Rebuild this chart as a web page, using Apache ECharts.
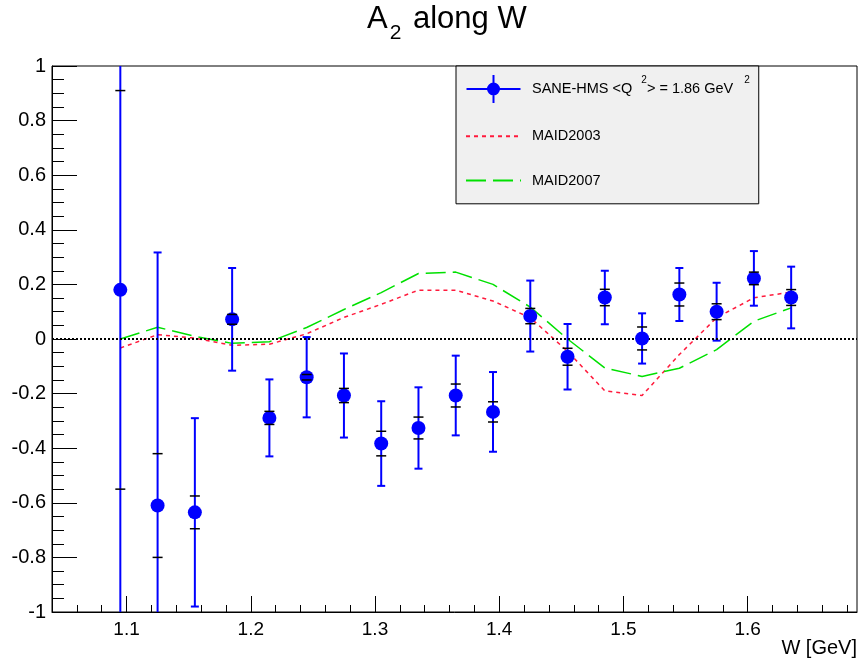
<!DOCTYPE html>
<html>
<head>
<meta charset="utf-8">
<script src="https://cdn.jsdelivr.net/npm/echarts@6/dist/echarts.min.js"></script>
<style>
  html, body { margin: 0; padding: 0; background: #fff; }
</style>
</head>
<body>
<div id="main" style="width:864px;height:667px;"></div>
<script>
// W bins [GeV]
var W = [1.095, 1.125, 1.155, 1.185, 1.215, 1.245, 1.275, 1.305, 1.335, 1.365,
         1.395, 1.425, 1.455, 1.485, 1.515, 1.545, 1.575, 1.605, 1.635];
// measured A2 with total error (blue) and inner error (black marks)
var A2 = [0.18, -0.61, -0.635, 0.072, -0.289, -0.14, -0.207, -0.383, -0.326, -0.207,
          -0.267, 0.084, -0.065, 0.152, 0.002, 0.163, 0.1, 0.222, 0.152];
var errTotal = [1.25, 0.927, 0.345, 0.188, 0.141, 0.147, 0.154, 0.155, 0.149, 0.146,
                0.146, 0.13, 0.12, 0.098, 0.092, 0.097, 0.106, 0.1, 0.113];
var errInner = [0.73, 0.19, 0.06, 0.018, 0.024, 0.01, 0.026, 0.045, 0.04, 0.042,
                0.037, 0.028, 0.031, 0.03, 0.042, 0.042, 0.029, 0.023, 0.029];
// model curves
var MAID2003 = [-0.033, 0.016, 0.003, -0.023, -0.019, 0.019, 0.079, 0.127, 0.179, 0.179,
                0.139, 0.078, -0.045, -0.19, -0.207, -0.057, 0.078, 0.151, 0.172];
var MAID2007 = [0.0, 0.043, 0.01, -0.016, -0.01, 0.042, 0.108, 0.17, 0.24, 0.245,
                0.2, 0.117, 0.0, -0.106, -0.137, -0.107, -0.039, 0.065, 0.114];
// axis ticks
var xMajor = [1.1, 1.2, 1.3, 1.4, 1.5, 1.6];
var xMinor = [1.06, 1.08, 1.12, 1.14, 1.16, 1.18, 1.22, 1.24, 1.26, 1.28, 1.32, 1.34, 1.36, 1.38,
              1.42, 1.44, 1.46, 1.48, 1.52, 1.54, 1.56, 1.58, 1.62, 1.64, 1.66, 1.68];
var X_MIN = 1.04, X_MAX = 1.688;
var Y_MIN = -1, Y_MAX = 1;

var SANE = 'SANE-HMS <Q^2> = 1.86 GeV^2';
var FONT = "'Liberation Sans', Arial, Helvetica, sans-serif";

var points = W.map(function (w, i) { return [w, A2[i], errTotal[i], errInner[i]]; });

function renderTotal(params, api) {
    var w = api.value(0), a = api.value(1), e = api.value(2);
    var hi = Math.min(a + e, Y_MAX), lo = Math.max(a - e, Y_MIN);
    var pHi = api.coord([w, hi]), pLo = api.coord([w, lo]);
    var st = { stroke: '#0000ff', lineWidth: 2 };
    var kids = [{ type: 'line', shape: { x1: pHi[0], y1: pHi[1], x2: pLo[0], y2: pLo[1] }, style: st }];
    if (a + e < Y_MAX) kids.push({ type: 'line', shape: { x1: pHi[0] - 4, y1: pHi[1], x2: pHi[0] + 4, y2: pHi[1] }, style: st });
    if (a - e > Y_MIN) kids.push({ type: 'line', shape: { x1: pLo[0] - 4, y1: pLo[1], x2: pLo[0] + 4, y2: pLo[1] }, style: st });
    return { type: 'group', children: kids };
}

function renderInner(params, api) {
    var w = api.value(0), a = api.value(1), e = api.value(3);
    var kids = [];
    [a + e, a - e].forEach(function (v) {
        if (v > Y_MIN && v < Y_MAX) {
            var p = api.coord([w, v]);
            kids.push({ type: 'line', shape: { x1: p[0] - 5, y1: p[1], x2: p[0] + 5, y2: p[1] },
                        style: { stroke: '#000', lineWidth: 1.5 } });
        }
    });
    return { type: 'group', children: kids };
}

var chart = echarts.init(document.getElementById('main'));
chart.setOption({
    animation: false,
    backgroundColor: '#fff',
    textStyle: { fontFamily: FONT },
    title: {
        text: '{a|A}{s|2}{a| along W}',
        left: 367,
        top: 4,
        padding: 0,
        textStyle: {
            fontWeight: 'normal',
            rich: {
                a: { fontSize: 31, lineHeight: 40, verticalAlign: 'top', color: '#000', fontFamily: FONT, fontWeight: 'normal' },
                s: { fontSize: 21, lineHeight: 21, verticalAlign: 'bottom', color: '#000', fontFamily: FONT, fontWeight: 'normal', padding: [0, 3, 0, 2] }
            }
        }
    },
    legend: {
        orient: 'vertical',
        left: 456,
        top: 66,
        padding: [9, 9, 12, 9],
        itemWidth: 55,
        itemHeight: 28,
        itemGap: 22,
        backgroundColor: '#f0f0f0',
        borderColor: '#000',
        borderWidth: 1,
        data: [
            { name: SANE, icon: 'path://M0 13H54V15H0Z M26 0H28V28H26Z M20.5 14A6.5 6.5 0 1 1 33.5 14A6.5 6.5 0 1 1 20.5 14Z' },
            { name: 'MAID2003', itemStyle: { opacity: 0 } },
            { name: 'MAID2007', itemStyle: { opacity: 0 } }
        ],
        formatter: function (name) {
            if (name === SANE) return '{n|SANE-HMS <Q }{s|2}{n|> = 1.86 GeV }{t|2}';
            return '{n|' + name + '}';
        },
        textStyle: {
            color: '#000',
            fontSize: 14.5,
            padding: [0, 0, 0, 6],
            rich: {
                n: { fontSize: 14.5, lineHeight: 28, color: '#000', fontFamily: FONT },
                s: { fontSize: 10, lineHeight: 10, verticalAlign: 'top', color: '#000', fontFamily: FONT, padding: [0, 0, 0, 5] },
                t: { fontSize: 10, lineHeight: 10, verticalAlign: 'top', color: '#000', fontFamily: FONT, padding: [0, 0, 0, 7] }
            }
        }
    },
    grid: {
        left: 52, right: 7, top: 66, bottom: 55,
        show: true, borderColor: '#000', borderWidth: 1
    },
    xAxis: [
        {
            type: 'value', min: X_MIN, max: X_MAX, position: 'bottom',
            name: 'W [GeV]', nameLocation: 'end', nameGap: 0,
            nameTextStyle: { align: 'right', verticalAlign: 'top', padding: [26, 0, 0, 0], fontSize: 20, color: '#000' },
            axisLine: { onZero: false, lineStyle: { color: '#000', width: 1 } },
            axisTick: { inside: true, length: 16, customValues: xMajor, lineStyle: { color: '#000' } },
            axisLabel: { customValues: xMajor, fontSize: 19, color: '#000', margin: 8,
                         formatter: function (v) { return v.toFixed(1); } },
            splitLine: { show: false }
        },
        {
            type: 'value', min: X_MIN, max: X_MAX, position: 'bottom',
            axisLine: { show: false, onZero: false },
            axisTick: { inside: true, length: 7, customValues: xMinor, lineStyle: { color: '#000' } },
            axisLabel: { show: false },
            splitLine: { show: false }
        }
    ],
    yAxis: {
        type: 'value', min: Y_MIN, max: Y_MAX, interval: 0.2,
        axisLine: { show: true, onZero: false, lineStyle: { color: '#000', width: 1 } },
        axisTick: { show: true, inside: true, length: 25, lineStyle: { color: '#000' } },
        minorTick: { show: true, splitNumber: 4, length: 12, lineStyle: { color: '#000' } },
        axisLabel: { fontSize: 20, color: '#000', margin: 6 },
        splitLine: { show: false }
    },
    series: [
        {
            name: 'MAID2003', type: 'line', symbol: 'none', z: 3,
            data: W.map(function (w, i) { return [w, MAID2003[i]]; }),
            itemStyle: { color: '#ff1a3c' },
            lineStyle: { color: '#ff1a3c', width: 1.5, type: [4, 4] }
        },
        {
            name: 'MAID2007', type: 'line', symbol: 'none', z: 3,
            data: W.map(function (w, i) { return [w, MAID2007[i]]; }),
            itemStyle: { color: '#00e000' },
            lineStyle: { color: '#00e000', width: 1.5, type: [20, 7] }
        },
        {
            type: 'custom', z: 4, renderItem: renderTotal,
            encode: { x: 0, y: 1 }, data: points, silent: true
        },
        {
            name: SANE, type: 'scatter', z: 5, symbol: 'circle', symbolSize: 14,
            itemStyle: { color: '#0000ff', opacity: 1 },
            data: points.map(function (p) { return [p[0], p[1]]; }),
            markLine: {
                silent: true, symbol: ['none', 'none'], label: { show: false },
                lineStyle: { color: '#000', type: [2, 2], width: 2 },
                data: [{ yAxis: 0 }]
            }
        },
        {
            type: 'custom', z: 6, renderItem: renderInner,
            encode: { x: 0, y: 1 }, data: points, silent: true
        }
    ]
});
</script>
</body>
</html>
